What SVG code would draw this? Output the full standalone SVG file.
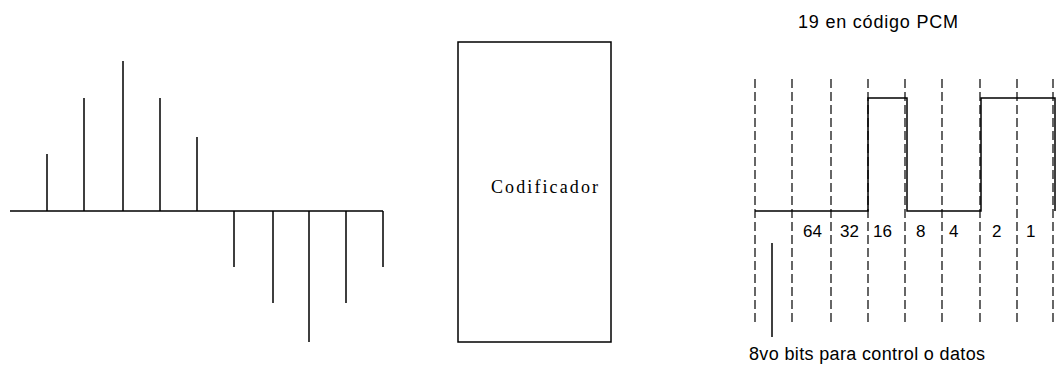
<svg xmlns="http://www.w3.org/2000/svg" width="1062" height="366" viewBox="0 0 1062 366">
<style>
.ln{stroke:#000;stroke-width:1.5;fill:none}
.ds{stroke:#000;stroke-width:1.2;stroke-dasharray:9 4;fill:none}
.sans{font-family:"Liberation Sans",Arial,sans-serif;fill:#000}
.serif{font-family:"Liberation Serif","Times New Roman",serif;fill:#000}
</style>
<rect width="1062" height="366" fill="#fff"/>
<g id="samples">
<path class="ln" d="M10 211H383M47 211V154M84 211V98M123 211V61M160 211V98M197 211V137M234 211V267M273 211V303M309 211V342M346 211V303M383 211V267"/>
</g>
<g id="codificador">
<rect x="458" y="42" width="153" height="300" class="ln"/>
<text class="serif" x="491" y="193" font-size="18" textLength="107" lengthAdjust="spacing">Codificador</text>
</g>
<g id="pcm">
<text class="sans" x="798" y="28" font-size="18" textLength="160" lengthAdjust="spacing">19 en código PCM</text>
<path class="ds" d="M755 79V323M792 79V323M831 79V323M868 79V323M905 79V323M942 79V323M980 79V323M1017 79V323M1053 79V323"/>
<path class="ln" d="M755 211H868V98H907V211H981V98H1055V211"/>
<g class="sans" font-size="17">
<text x="803" y="237">64</text>
<text x="840" y="237">32</text>
<text x="873" y="237">16</text>
<text x="916" y="237">8</text>
<text x="949" y="237">4</text>
<text x="992" y="237">2</text>
<text x="1026" y="237">1</text>
</g>
</g>
<g id="connectors">
<path class="ln" d="M772 243V337"/>
</g>
<text class="sans" x="749" y="360" font-size="18" textLength="236" lengthAdjust="spacing">8vo bits para control o datos</text>
</svg>
